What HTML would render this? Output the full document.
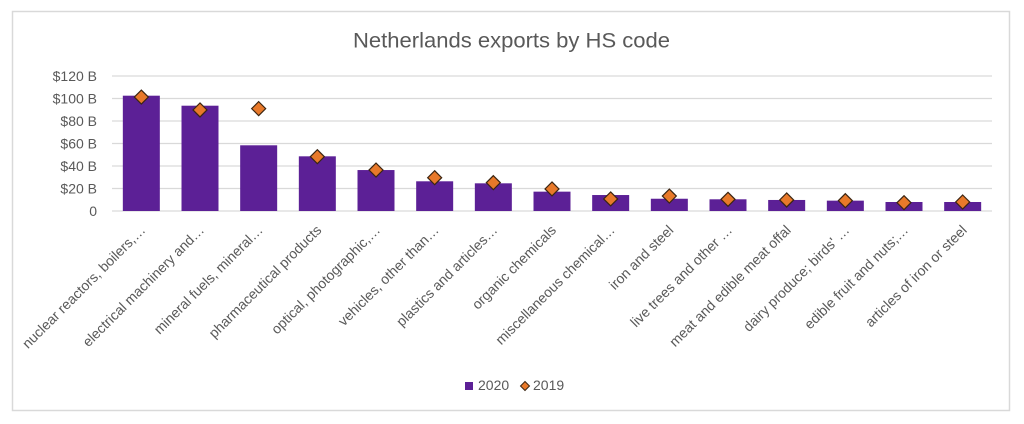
<!DOCTYPE html>
<html><head><meta charset="utf-8"><style>
html,body{margin:0;padding:0;background:#fff;}
svg{display:block;}
text{font-family:"Liberation Sans",Arial,sans-serif;fill:#595959;}
</style></head><body>
<svg width="1024" height="424" viewBox="0 0 1024 424" xmlns="http://www.w3.org/2000/svg">
<rect x="0" y="0" width="1024" height="424" fill="#fff"/>
<rect x="12.5" y="11.5" width="997" height="399" fill="#fff" stroke="#d9d9d9" stroke-width="1.5"/>
<text x="511.5" y="47.5" font-size="21" text-anchor="middle" textLength="317" lengthAdjust="spacingAndGlyphs">Netherlands exports by HS code</text>
<g stroke="#d9d9d9" stroke-width="1.3">
<line x1="112" x2="992" y1="76" y2="76"/>
<line x1="112" x2="992" y1="98.5" y2="98.5"/>
<line x1="112" x2="992" y1="121" y2="121"/>
<line x1="112" x2="992" y1="143.5" y2="143.5"/>
<line x1="112" x2="992" y1="166" y2="166"/>
<line x1="112" x2="992" y1="188.5" y2="188.5"/>
<line x1="112" x2="992" y1="211" y2="211"/>
</g>
<g font-size="14" text-anchor="end">
<text x="97" y="81">$120 B</text>
<text x="97" y="103.5">$100 B</text>
<text x="97" y="126">$80 B</text>
<text x="97" y="148.5">$60 B</text>
<text x="97" y="171">$40 B</text>
<text x="97" y="193.5">$20 B</text>
<text x="97" y="216">0</text>
</g>
<g id="bars" fill="#5c2096"></g>
<g id="dia" fill="#e8792a" stroke="#3b2512" stroke-width="1.2"></g>
<g id="labs" font-size="14" text-anchor="end"></g>
<rect x="465" y="382" width="8" height="8" fill="#5c2096"/>
<text x="478" y="390" font-size="14">2020</text>
<polygon points="525,381.5 529.5,386 525,390.5 520.5,386" fill="#e8792a" stroke="#3b2512" stroke-width="1"/>
<text x="533" y="390" font-size="14">2019</text>
<script>
(function(){
var v20=[102.5,93.6,58.4,48.6,36.4,26.4,24.6,17.2,14.2,10.9,10.4,9.8,9.2,8,8];
var v19=[101.3,89.8,91,48.3,36.4,29.6,25.2,19.6,10.7,13.3,10.4,9.8,9.2,7.4,8];
var labs=["nuclear reactors, boilers,\u2026","electrical machinery and\u2026","mineral fuels, mineral\u2026","pharmaceutical products","optical, photographic,\u2026","vehicles, other than\u2026","plastics and articles\u2026","organic chemicals","miscellaneous chemical\u2026","iron and steel","live trees and other \u2026","meat and edible meat offal","dairy produce; birds' \u2026","edible fruit and nuts;\u2026","articles of iron or steel"];
var NS="http://www.w3.org/2000/svg";
var b=document.getElementById("bars"),d=document.getElementById("dia"),l=document.getElementById("labs");
for(var i=0;i<15;i++){
 var cx=112+58.667*(i+0.5);
 var y=211-v20[i]*1.125;
 var r=document.createElementNS(NS,"rect");
 r.setAttribute("x",(cx-18.5).toFixed(2));r.setAttribute("y",y.toFixed(2));
 r.setAttribute("width","37");r.setAttribute("height",(211-y).toFixed(2));
 b.appendChild(r);
 var dy=211-v19[i]*1.125,s=7;
 var p=document.createElementNS(NS,"polygon");
 p.setAttribute("points",cx+","+(dy-s)+" "+(cx+s)+","+dy+" "+cx+","+(dy+s)+" "+(cx-s)+","+dy);
 d.appendChild(p);
 var t=document.createElementNS(NS,"text");
 var tx=cx+5,ty=231;
 t.setAttribute("x",tx.toFixed(2));t.setAttribute("y",ty);
 t.setAttribute("transform","rotate(-45 "+tx.toFixed(2)+" "+ty+")");
 t.textContent=labs[i];
 l.appendChild(t);
}
})();
</script>
</svg>
</body></html>
